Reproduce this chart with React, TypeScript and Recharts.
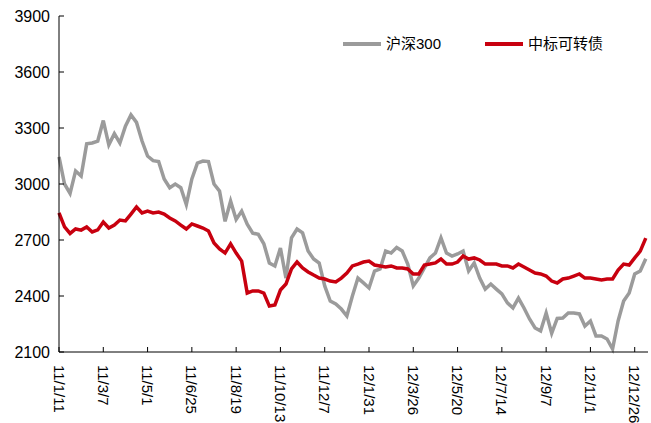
import { LineChart, Line, XAxis, YAxis, Legend } from "recharts";

// tick dates, 8 weeks apart
const tickLabels = [
  "11/1/11", "11/3/7", "11/5/1", "11/6/25", "11/8/19", "11/10/13", "11/12/7",
  "12/1/31", "12/3/26", "12/5/20", "12/7/14", "12/9/7", "12/11/1", "12/12/26",
];

// weekly readings
const hs300 = [
  3145, 3000, 2950, 3070, 3043, 3215, 3220, 3230, 3340, 3210,
  3270, 3220, 3310, 3370, 3330, 3230, 3150, 3125, 3120, 3027,
  2980, 3000, 2980, 2890, 3027, 3112, 3123, 3120, 3000, 2962,
  2800, 2908, 2810, 2855, 2785, 2737, 2730, 2680, 2577, 2561,
  2657, 2496, 2711, 2759, 2738, 2641, 2598, 2577, 2454, 2373,
  2357, 2330, 2293, 2400, 2496, 2470, 2443, 2534, 2545, 2641,
  2630, 2660, 2641, 2571, 2454, 2496, 2550, 2604, 2630, 2711,
  2630, 2614, 2625, 2641, 2534, 2577, 2496, 2437, 2464, 2437,
  2411, 2363, 2336, 2389, 2336, 2277, 2229, 2213, 2309, 2200,
  2280, 2282, 2309, 2309, 2304, 2239, 2266, 2186, 2186, 2170,
  2116, 2266, 2373, 2416, 2518, 2534, 2600,
];

const cbIndex = [
  2845, 2770, 2735, 2759, 2753, 2770, 2743, 2754, 2796, 2764,
  2780, 2807, 2802, 2839, 2877, 2845, 2855, 2845, 2850, 2839,
  2818, 2802, 2780, 2759, 2786, 2775, 2764, 2748, 2684, 2652,
  2630, 2679, 2630, 2587, 2416, 2427, 2427, 2416, 2346, 2352,
  2432, 2464, 2545, 2582, 2550, 2529, 2512, 2496, 2491, 2480,
  2475, 2496, 2523, 2561, 2571, 2582, 2587, 2566, 2561, 2555,
  2561, 2550, 2550, 2545, 2518, 2518, 2566, 2571, 2577, 2598,
  2571, 2571, 2582, 2614, 2598, 2604, 2593, 2571, 2571, 2571,
  2561, 2561, 2550, 2571, 2555, 2539, 2523, 2518, 2507, 2480,
  2470, 2491, 2496, 2507, 2518, 2496, 2496, 2491, 2486, 2491,
  2491, 2539, 2571, 2566, 2604, 2640, 2710,
];

const yTicks = [2100, 2400, 2700, 3000, 3300, 3600, 3900];

const data = hs300.map((v, i) => ({ idx: i, hs300: v, cb: cbIndex[i] }));
const xTicks = tickLabels.map((_, i) => i * 8);

const GRAY = "#9b9b9b";
const RED = "#c8000f";
const FONT = "Arial, 'Liberation Sans', 'Noto Sans CJK SC', sans-serif";

const XTick = (props: any) => {
  const { x, y, payload } = props;
  const label = tickLabels[Math.round(payload.value / 8)];
  const ty = y + 13;
  return (
    <g>
      <line x1={x} y1={y} x2={x} y2={y - 5} stroke="#000" />
      <text
        x={x}
        y={ty}
        transform={`rotate(90 ${x} ${ty})`}
        textAnchor="start"
        dominantBaseline="central"
        fontSize={15}
        fill="#000"
      >
        {label}
      </text>
    </g>
  );
};

const YTick = (props: any) => {
  const { x, y, payload } = props;
  return (
    <g>
      <line x1={x} y1={y} x2={x + 5} y2={y} stroke="#000" />
      <text x={x - 9} y={y} textAnchor="end" dominantBaseline="central" fontSize={16} fill="#000">
        {payload.value}
      </text>
    </g>
  );
};

const LegendBox = () => (
  <div style={{ position: "relative", width: 270, height: 22, fontSize: 15, fontFamily: FONT }}>
    <span style={{ position: "absolute", left: 0, top: 9, width: 38, height: 4, background: GRAY }} />
    <span style={{ position: "absolute", left: 43, top: 0, lineHeight: "22px" }}>沪深300</span>
    <span style={{ position: "absolute", left: 142, top: 9, width: 38, height: 4, background: RED }} />
    <span style={{ position: "absolute", left: 185, top: 0, lineHeight: "22px" }}>中标可转债</span>
  </div>
);

export default function App() {
  return (
    <div style={{ width: 651, height: 423, position: "relative", background: "#fff", fontFamily: FONT }}>
      <style>{`body{margin:0}`}</style>
      <LineChart width={651} height={423} data={data} margin={{ top: 16, right: 3, bottom: 0, left: 0 }}>
        <XAxis
          dataKey="idx"
          type="number"
          domain={[0, 106.4]}
          ticks={xTicks}
          tick={<XTick />}
          tickLine={false}
          tickSize={0}
          tickMargin={0}
          height={71}
          axisLine={{ stroke: "#000" }}
          interval={0}
        />
        <YAxis
          domain={[2100, 3900]}
          ticks={yTicks}
          tick={<YTick />}
          tickLine={false}
          tickSize={0}
          tickMargin={0}
          width={59}
          axisLine={{ stroke: "#000" }}
          interval={0}
        />
        <Legend
          layout="horizontal"
          verticalAlign="middle"
          align="center"
          content={<LegendBox />}
          wrapperStyle={{ top: 33, left: 343, width: 270 }}
        />
        <Line type="linear" dataKey="hs300" stroke={GRAY} strokeWidth={3.5} dot={false} isAnimationActive={false} />
        <Line type="linear" dataKey="cb" stroke={RED} strokeWidth={3.5} dot={false} isAnimationActive={false} />
      </LineChart>
    </div>
  );
}
